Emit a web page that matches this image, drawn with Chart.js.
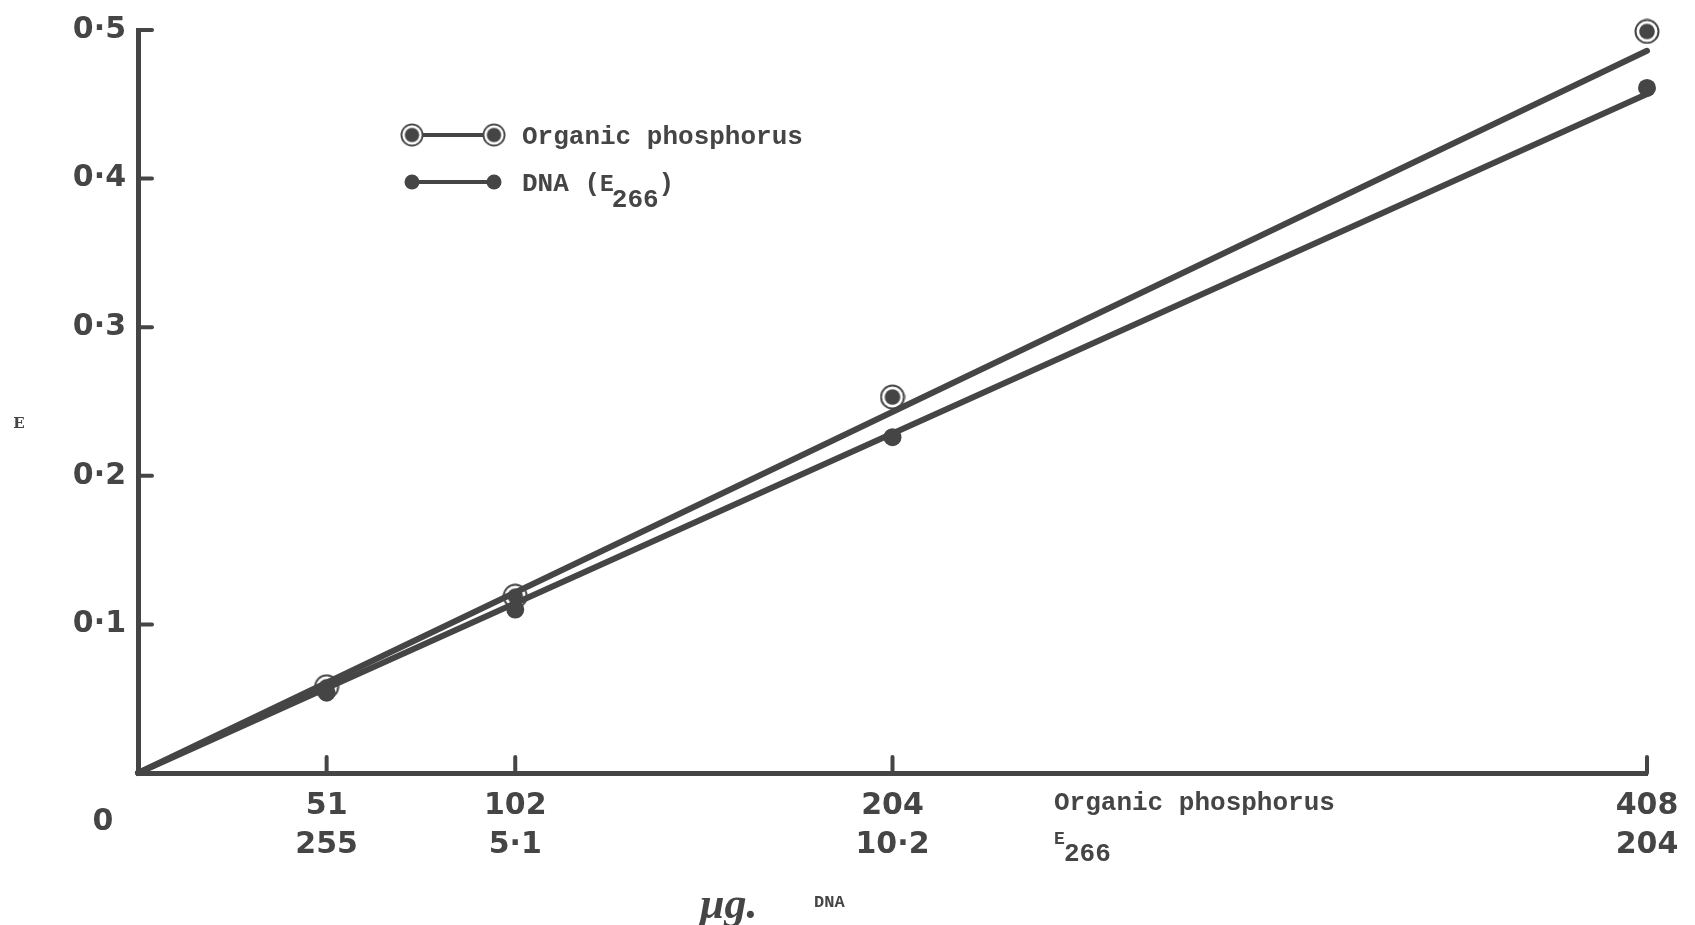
<!DOCTYPE html>
<html><head><meta charset="utf-8">
<script src="https://cdn.jsdelivr.net/npm/chart.js@4"></script>
<style>html,body{margin:0;padding:0;background:#fff;overflow:hidden}#wrap{width:1695px;height:925px;position:relative}</style>
</head><body><div id="wrap"><canvas id="c" width="1695" height="925"></canvas></div>
<script>
// ---- data ----
const xValues = [51, 102, 204, 408];                 // µg DNA
const organicPhosphorus = [0.058, 0.119, 0.253, 0.499];
const dnaE266 = [0.054, 0.110, 0.226, 0.461];
const fitX = [0, 408];
const organicFit = [0, 0.486];
const dnaFit = [0, 0.457];
const xTickTop = ['51', '102', '204', '408'];
const xTickBottom = ['255', '5·1', '10·2', '204'];
const yTicks = [0.1, 0.2, 0.3, 0.4, 0.5];
const yTickLabels = ['0·1', '0·2', '0·3', '0·4', '0·5'];

const INK = '#454545';
const LABEL_FONT = 'DejaVu Sans';
const TYPE_FONT = 'Liberation Mono';

function bullseye(size) {
  const c = document.createElement('canvas');
  c.width = size; c.height = size;
  const g = c.getContext('2d');
  const r = size / 2;
  g.beginPath(); g.arc(r, r, r - 1.5, 0, 2 * Math.PI);
  g.fillStyle = '#fff'; g.fill();
  g.lineWidth = 2; g.strokeStyle = INK; g.stroke();
  g.beginPath(); g.arc(r, r, r * 0.6, 0, 2 * Math.PI);
  g.fillStyle = INK; g.fill();
  return c;
}
const bullImg = bullseye(26);

const pts = (xs, ys) => xs.map((x, i) => ({x, y: ys[i]}));

const decor = {
  id: 'decor',
  afterDraw(chart) {
    const ctx = chart.ctx, xs = chart.scales.x, ys = chart.scales.y, a = chart.chartArea;
    ctx.save();
    ctx.strokeStyle = INK; ctx.fillStyle = INK; ctx.lineCap = 'round';
    // inward tick marks
    ctx.lineWidth = 4;
    yTicks.forEach(v => {
      const py = ys.getPixelForValue(v);
      ctx.beginPath(); ctx.moveTo(a.left, py); ctx.lineTo(a.left + 14, py); ctx.stroke();
    });
    xValues.forEach(v => {
      const px = xs.getPixelForValue(v);
      ctx.beginPath(); ctx.moveTo(px, a.bottom); ctx.lineTo(px, a.bottom - 16); ctx.stroke();
    });
    // origin label
    ctx.font = 'bold 30px ' + LABEL_FONT;
    ctx.textAlign = 'center'; ctx.textBaseline = 'middle';
    ctx.fillText('0', a.left - 35, a.bottom + 49);
    // row labels for the two x scales
    ctx.textAlign = 'left'; ctx.textBaseline = 'alphabetic';
    ctx.font = 'bold 26px ' + TYPE_FONT;
    const rx = a.left + 916;
    ctx.fillText('Organic phosphorus', rx, a.bottom + 37);
    ctx.font = 'bold 18px ' + TYPE_FONT;
    ctx.fillText('E', rx, a.bottom + 71);
    ctx.font = 'bold 26px ' + TYPE_FONT;
    ctx.fillText('266', rx + 10, a.bottom + 88);
    // x axis title
    ctx.font = 'bold italic 44px "Liberation Serif"';
    ctx.fillText('μg.', 700, 918);
    ctx.font = 'bold 17px ' + TYPE_FONT;
    ctx.fillText('DNA', 814, 907);
    // y axis title
    ctx.font = 'bold 15px "DejaVu Serif"';
    ctx.textAlign = 'center';
    ctx.fillText('E', 19, 428);
    // legend
    const lx1 = 412, lx2 = 494, ty = 522;
    ctx.lineWidth = 4; ctx.lineCap = 'butt';
    [[135, 'o'], [182, 'd']].forEach(([ly, kind]) => {
      ctx.beginPath(); ctx.moveTo(lx1, ly); ctx.lineTo(lx2, ly); ctx.stroke();
      [lx1, lx2].forEach(mx => {
        if (kind === 'o') ctx.drawImage(bullImg, mx - 12, ly - 12, 24, 24);
        else { ctx.beginPath(); ctx.arc(mx, ly, 7.5, 0, 2 * Math.PI); ctx.fill(); }
      });
    });
    ctx.textAlign = 'left';
    ctx.font = 'bold 26px ' + TYPE_FONT;
    ctx.fillText('Organic phosphorus', ty, 144);
    let t = 'DNA (';
    ctx.fillText(t, ty, 191);
    let cx = ty + ctx.measureText(t).width;
    ctx.font = 'bold 23px ' + TYPE_FONT;
    ctx.fillText('E', cx, 191);
    cx += ctx.measureText('E').width;
    ctx.font = 'bold 26px ' + TYPE_FONT;
    ctx.fillText('266', cx - 2, 207);
    cx += ctx.measureText('266').width - 2;
    ctx.fillText(')', cx, 191);
    ctx.restore();
  }
};

new Chart(document.getElementById('c'), {
  type: 'scatter',
  data: {
    datasets: [
      { label: 'DNA (E266)', data: pts(xValues, dnaE266), pointStyle: 'circle', pointRadius: 9, backgroundColor: INK, borderWidth: 0, showLine: false, clip: false },
      { label: 'Organic phosphorus fit', data: pts(fitX, organicFit), showLine: true, borderColor: INK, borderWidth: 6, pointRadius: 0, borderCapStyle: 'round', clip: false },
      { label: 'DNA fit', data: pts(fitX, dnaFit), showLine: true, borderColor: INK, borderWidth: 6, pointRadius: 0, borderCapStyle: 'round', clip: false },
      { label: 'Organic phosphorus', data: pts(xValues, organicPhosphorus), pointStyle: bullImg, pointRadius: 13, showLine: false, clip: false }
    ]
  },
  options: {
    responsive: false,
    animation: false,
    layout: { padding: { top: 27, right: 48, left: 0, bottom: 0 } },
    plugins: { legend: { display: false }, tooltip: { enabled: false } },
    scales: {
      x: {
        type: 'linear', min: 0, max: 408,
        afterBuildTicks: s => { s.ticks = xValues.map(v => ({ value: v })); },
        afterFit: s => { s.height = 152; },
        grid: { display: false, drawTicks: false },
        border: { display: true, width: 5, color: INK },
        ticks: {
          autoSkip: false, maxRotation: 0, padding: 14, color: INK,
          font: { family: LABEL_FONT, weight: 'bold', size: 30, lineHeight: 1.3 },
          callback: v => { const i = xValues.indexOf(v); return [xTickTop[i], xTickBottom[i]]; }
        }
      },
      y: {
        type: 'linear', min: 0, max: 0.5,
        afterBuildTicks: s => { s.ticks = yTicks.map(v => ({ value: v })); },
        afterFit: s => { s.width = 138; },
        grid: { display: false, drawTicks: false },
        border: { display: true, width: 5, color: INK },
        ticks: {
          padding: 12, color: INK,
          font: { family: LABEL_FONT, weight: 'bold', size: 30 },
          callback: v => yTickLabels[yTicks.indexOf(v)]
        }
      }
    }
  },
  plugins: [decor]
});
</script></body></html>
